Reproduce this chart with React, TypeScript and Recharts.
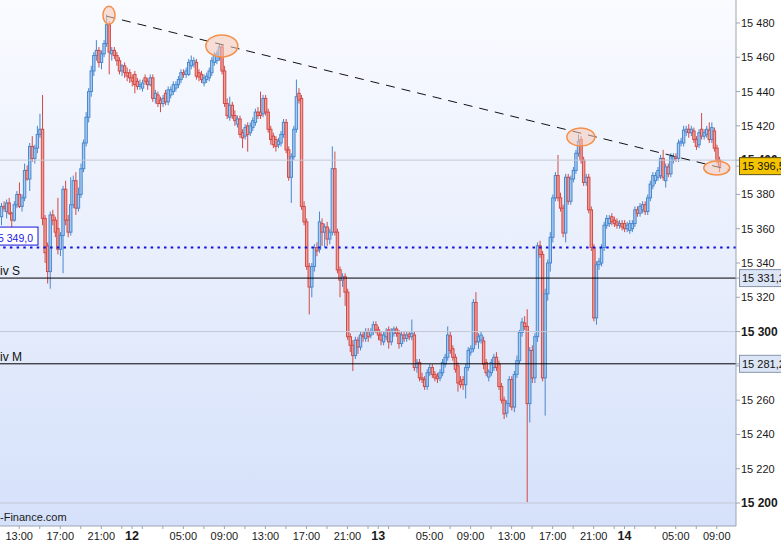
import {
  ComposedChart,
  Bar,
  XAxis,
  YAxis,
  ReferenceLine,
  ReferenceDot,
} from 'recharts';

// 15-minute candles, slot 0 = 11:15 on the 11th
const OPEN = [
  15367, 15373, 15370, 15375, 15369, 15365, 15374, 15380, 15373, 15378,
  15394, 15389, 15408, 15401, 15407, 15415, 15418, 15366, 15350, 15335,
  15368, 15365, 15360, 15348, 15356, 15383, 15365, 15358, 15374, 15388,
  15372, 15380, 15395, 15410, 15425, 15440, 15452, 15461, 15464, 15457,
  15462, 15468, 15479, 15462, 15464, 15461, 15458, 15452, 15455, 15451,
  15451, 15448, 15450, 15446, 15443, 15442, 15448, 15446, 15444, 15448,
  15436, 15438, 15435, 15433, 15439, 15434, 15438, 15440, 15442, 15444,
  15447, 15451, 15450, 15450, 15455, 15456, 15457, 15451, 15450, 15445,
  15447, 15448, 15451, 15457, 15458, 15460, 15466, 15452, 15433, 15425,
  15432, 15426, 15421, 15424, 15416, 15414, 15420, 15416, 15419, 15422,
  15428, 15428, 15427, 15436, 15428, 15418, 15414, 15412, 15409, 15410,
  15415, 15422, 15406, 15390, 15402, 15418, 15439, 15436, 15373, 15364,
  15338, 15326, 15338, 15349, 15348, 15363, 15358, 15361, 15354, 15358,
  15395, 15358, 15336, 15330, 15332, 15323, 15297, 15292, 15286, 15295,
  15291, 15298, 15296, 15300, 15298, 15300, 15304, 15301, 15298, 15294,
  15297, 15301, 15294, 15299, 15301.5, 15299, 15293, 15298, 15296, 15298.5,
  15297, 15298, 15279, 15282, 15273, 15272, 15268, 15276, 15279, 15275,
  15274, 15273, 15276, 15281, 15285, 15297.5, 15290, 15285, 15280, 15271,
  15272, 15269, 15279, 15288, 15290, 15317, 15294, 15295, 15294.5, 15282,
  15273.5, 15276, 15279, 15285, 15281, 15268, 15260, 15252.5, 15258, 15272,
  15256, 15275, 15283, 15299.5, 15305, 15303, 15258, 15289, 15273, 15297,
  15350, 15345, 15273, 15322, 15340, 15355, 15378, 15391, 15378, 15372,
  15357.5, 15390, 15376, 15389, 15394, 15404, 15412, 15400, 15387, 15390,
  15371, 15349, 15308, 15339, 15340, 15349, 15362, 15363, 15367, 15365,
  15364, 15362, 15363, 15363, 15360, 15359, 15360, 15363, 15371, 15369,
  15371, 15374, 15370, 15378, 15385, 15388, 15390, 15391, 15401, 15388,
  15396, 15392, 15400, 15402, 15401, 15410, 15410, 15416.5, 15418, 15416,
  15417, 15412, 15409, 15418, 15414, 15415, 15417.5, 15412, 15417, 15407,
  15400,
];

const HIGH = [
  15375, 15376, 15377, 15378, 15370, 15376, 15382, 15387, 15380, 15398,
  15397, 15410, 15414, 15409, 15420, 15427, 15438, 15368, 15352, 15370,
  15371, 15367, 15378, 15358, 15385, 15388, 15368, 15390, 15391, 15393,
  15384, 15398, 15412, 15428, 15442, 15455, 15463, 15470, 15466, 15464,
  15470, 15485, 15481, 15466, 15466, 15463, 15460, 15456, 15457, 15454,
  15453, 15450, 15452, 15448, 15447, 15447, 15450, 15448, 15450, 15450,
  15441, 15440, 15437, 15438, 15441, 15443, 15443, 15446, 15446, 15449,
  15453, 15453, 15454, 15459, 15461, 15460, 15459, 15453, 15452, 15450,
  15451, 15454, 15460, 15463, 15464, 15468, 15467, 15455, 15436, 15437,
  15434, 15429, 15426, 15426, 15418, 15421, 15422, 15422, 15425, 15430,
  15431, 15440, 15438, 15438, 15430, 15420, 15416, 15414, 15413, 15417,
  15424, 15424, 15408, 15404, 15420, 15447, 15442, 15438, 15376, 15366,
  15340, 15340, 15351, 15352, 15370, 15366, 15363, 15364, 15360, 15408,
  15405, 15360, 15338, 15334, 15334, 15325, 15299, 15295, 15297, 15297,
  15300, 15300, 15302, 15302, 15302, 15306, 15306, 15303, 15300, 15300,
  15302, 15303, 15302, 15303, 15303, 15301, 15300, 15300, 15300, 15300,
  15307, 15300, 15284, 15284, 15276, 15274, 15278, 15281, 15281, 15277,
  15276, 15278, 15284, 15287, 15303, 15300, 15292, 15287, 15282, 15274,
  15274, 15281, 15291, 15292, 15319, 15323, 15299, 15300, 15297, 15284,
  15278, 15284, 15287, 15288, 15283, 15270, 15262, 15260, 15274, 15274,
  15277, 15286, 15301, 15308, 15309, 15313, 15291, 15292, 15299, 15352,
  15353, 15347, 15325, 15342, 15358, 15380, 15393, 15403, 15381, 15374,
  15392, 15392, 15391, 15396, 15406, 15415, 15414, 15402, 15392, 15392,
  15373, 15351, 15341, 15343, 15351, 15364, 15368, 15368, 15369, 15367,
  15366, 15365, 15365, 15365, 15364, 15365, 15365, 15373, 15373, 15375,
  15376, 15376, 15380, 15388, 15393, 15393, 15396, 15403, 15406, 15398,
  15398, 15404, 15404, 15404, 15412, 15413, 15420, 15420, 15421, 15420,
  15419, 15414, 15418, 15427.5, 15418, 15420, 15422, 15422, 15419, 15409,
  15402,
];

const LOW = [
  15362, 15370, 15366, 15368, 15361, 15364, 15372, 15372, 15370, 15376,
  15388, 15382, 15399, 15398, 15404, 15413, 15362, 15340, 15328, 15325,
  15362, 15355, 15345, 15344, 15334, 15362, 15355, 15356, 15372, 15368,
  15370, 15378, 15393, 15408, 15422, 15437, 15449, 15458, 15454, 15453,
  15460, 15466, 15450, 15458, 15459, 15455, 15450, 15449, 15448, 15446,
  15445, 15443, 15439, 15441, 15441, 15440, 15444, 15441, 15443, 15434,
  15433, 15431, 15428, 15431, 15432, 15432, 15436, 15438, 15440, 15442,
  15445, 15448, 15448, 15449, 15453, 15454, 15447, 15446, 15445, 15443,
  15445, 15446, 15449, 15455, 15456, 15458, 15450, 15431, 15424, 15423,
  15424, 15420, 15419, 15413, 15407, 15412, 15405, 15414, 15417, 15420,
  15424, 15424, 15425, 15426, 15416, 15409, 15407, 15405, 15407, 15408,
  15413, 15404, 15388, 15375, 15400, 15416, 15433, 15371, 15362, 15336,
  15310, 15320, 15335, 15344, 15346, 15350, 15349, 15350, 15351, 15356,
  15356, 15334, 15320, 15326, 15315, 15295, 15288, 15277, 15284, 15287,
  15289, 15294, 15294, 15294, 15296, 15298, 15299, 15295, 15292, 15292,
  15295, 15290, 15292, 15297, 15297, 15290, 15291, 15294, 15294, 15295,
  15295, 15277, 15276, 15271, 15270, 15266, 15266, 15274, 15273, 15271,
  15270, 15271, 15274, 15279, 15283, 15287, 15283, 15276, 15265, 15267,
  15266, 15261, 15277, 15286, 15288, 15292, 15290, 15293, 15278, 15274,
  15271, 15274, 15277, 15277, 15266, 15258, 15249, 15250, 15256, 15254,
  15253, 15273, 15281, 15297, 15301, 15200.5, 15247, 15270, 15270, 15294,
  15343, 15271, 15251, 15318, 15335, 15352, 15376, 15376, 15370, 15355,
  15352, 15374, 15374, 15387, 15392, 15402, 15398, 15385, 15385, 15369,
  15347, 15306, 15304, 15336, 15338, 15347, 15360, 15361, 15362, 15361,
  15360, 15360, 15359, 15358, 15358, 15357, 15358, 15361, 15367, 15367,
  15369, 15368, 15368, 15376, 15383, 15386, 15388, 15389, 15388, 15384,
  15390, 15390, 15398, 15399, 15399, 15408, 15408, 15414, 15413, 15414,
  15410, 15406, 15407, 15412, 15412, 15413, 15410, 15410, 15405, 15398,
  15393,
];

const CLOSE = [
  15373, 15372, 15375, 15369, 15365, 15374, 15380, 15373, 15378, 15394,
  15389, 15408, 15401, 15407, 15415, 15418, 15366, 15346, 15335, 15368,
  15365, 15358, 15348, 15356, 15383, 15365, 15358, 15374, 15388, 15372,
  15380, 15395, 15410, 15425, 15440, 15452, 15461, 15464, 15457, 15462,
  15468, 15479, 15463, 15464, 15461, 15458, 15452, 15455, 15451, 15449,
  15448, 15446, 15444, 15443, 15444, 15445, 15446, 15444, 15448, 15436,
  15439, 15433, 15433, 15436, 15434, 15441, 15441, 15444, 15444, 15447,
  15451, 15450, 15452, 15457, 15458, 15458, 15449, 15448.5, 15447, 15448,
  15449, 15452, 15458, 15461, 15462, 15466, 15452, 15433, 15426, 15432,
  15426, 15423, 15424, 15415, 15413, 15419, 15415, 15420, 15423, 15428,
  15426, 15426, 15436, 15428, 15418, 15412, 15409, 15408, 15411, 15415,
  15422, 15406, 15390, 15402, 15418, 15437, 15435, 15373, 15364, 15338,
  15326, 15338, 15349, 15347, 15364, 15358, 15361, 15354, 15358, 15395,
  15358, 15336, 15330, 15332, 15323, 15297, 15292, 15286, 15295, 15291,
  15298, 15297, 15300, 15297, 15300, 15304, 15301, 15298, 15295, 15298,
  15300, 15294, 15300, 15301.5, 15299, 15293, 15298, 15296, 15298, 15297,
  15299, 15279, 15282, 15273, 15272, 15268, 15276, 15279, 15275, 15273,
  15272.5, 15276, 15282, 15285, 15298, 15289, 15285, 15278, 15270, 15269,
  15269, 15279, 15289, 15290, 15317, 15294, 15297, 15298, 15281, 15276,
  15276.5, 15282, 15285, 15279, 15268, 15260, 15252, 15258, 15272, 15256,
  15275, 15283, 15299.5, 15305.5, 15303, 15258, 15289, 15273, 15297, 15350,
  15345, 15273, 15322, 15340, 15355, 15378, 15391, 15378, 15372, 15357.5,
  15390, 15376, 15389, 15394, 15404, 15411, 15400, 15387, 15390, 15371,
  15349, 15308, 15339, 15341, 15349, 15362, 15366, 15366, 15364, 15363,
  15362, 15363, 15361, 15360, 15362, 15363, 15363, 15371, 15369, 15373,
  15374, 15370, 15378, 15386, 15391, 15391, 15394, 15401, 15390, 15396,
  15392, 15402, 15402, 15401, 15410, 15411, 15417.5, 15418, 15416, 15418,
  15412, 15408, 15416, 15414, 15416, 15418, 15412, 15419, 15407, 15400,
  15396.5,
];

// whole axis is 287 slots, the last ones are still empty
const SLOT_COUNT = 287;

const TIME_TICKS = [7, 23, 39, 51, 71, 87, 103, 119, 135, 147, 167, 183, 199, 215, 231, 243, 263, 279];
const TIME_LABELS = [
  '13:00', '17:00', '21:00', '12', '05:00', '09:00', '13:00', '17:00', '21:00',
  '13', '05:00', '09:00', '13:00', '17:00', '21:00', '14', '05:00', '09:00',
];
const DAY_LABELS = ['12', '13', '14'];
const MINOR_TICKS = [15, 31, 47, 55, 63, 79, 95, 111, 127, 143, 151, 159, 175, 191, 207, 223, 239, 247, 255, 271];

const PRICE_TICKS = [
  15200, 15220, 15240, 15260, 15280, 15300, 15320, 15340,
  15360, 15380, 15400, 15420, 15440, 15460, 15480,
];
const GRID_PRICES = [15200, 15300, 15400];

const LAST_PRICE = 15396.5;
const PIVOT_LEVELS = [15331.2, 15281.2];
const PIVOT_NAMES = ['Piv S', 'Piv M'];
const ALERT_LEVEL = 15349.0;

const TREND_SLOTS = [41, 284];
const TREND_PRICES = [15484, 15394.3];

const MARK_SLOTS = [42, 86, 226, 279];
const MARK_PRICES = [15484.5, 15466.6, 15413.5, 15395.4];
const MARK_SIZES = [[6, 9], [16, 11], [14, 9], [13, 7]];

const AXIS_GREY = '#9ba4b6';
const TAG_LEVELS = [...PIVOT_LEVELS, LAST_PRICE];

const fmt = (v: number, digits = 0) => {
  const [int, dec] = v.toFixed(digits).split('.');
  return int.replace(/\B(?=(\d{3})+(?!\d))/g, ' ') + (dec ? ',' + dec : '');
};

const rows = Array.from({ length: SLOT_COUNT }, (_, i) => ({
  slot: i,
  o: OPEN[i] ?? null,
  h: HIGH[i] ?? null,
  l: LOW[i] ?? null,
  c: CLOSE[i] ?? null,
}));

function Candle(props: any) {
  const { x, y, width, height, payload } = props;
  if (payload == null || payload.o == null) return null;
  const top = Math.min(y, y + height);
  const bottom = Math.max(y, y + height);
  const span = payload.h - payload.l;
  const toY = (p: number) => (span > 0 ? top + ((payload.h - p) / span) * (bottom - top) : top);
  const up = payload.c >= payload.o;
  const line = up ? '#4888cf' : '#d24a46';
  const fill = up ? '#a9cbf0' : '#f19f99';
  const cx = x + width / 2;
  const y1 = toY(Math.max(payload.o, payload.c));
  const y2 = toY(Math.min(payload.o, payload.c));
  return (
    <g>
      <line x1={cx} x2={cx} y1={top} y2={bottom} stroke={line} strokeWidth={1} />
      <rect
        x={cx - 1.2}
        y={y1}
        width={2.4}
        height={Math.max(1, y2 - y1)}
        fill={fill}
        stroke={line}
        strokeWidth={1}
      />
    </g>
  );
}

function TimeTick({ x, y, payload }: any) {
  const idx = TIME_TICKS.indexOf(payload.value);
  if (idx < 0) return null;
  const label = TIME_LABELS[idx];
  const isDay = DAY_LABELS.includes(label);
  return (
    <text
      x={x}
      y={y + 9}
      textAnchor="middle"
      fontSize={isDay ? 12.5 : 11}
      fontWeight={isDay ? 'bold' : 'normal'}
      fill="#1a1a1a"
    >
      {label}
    </text>
  );
}

// price ticks; the tag levels come last so their boxes sit over the plain labels
function PriceTick({ x, y, payload }: any) {
  const v = payload.value;
  if (TAG_LEVELS.includes(v)) {
    const yellow = v === LAST_PRICE;
    return (
      <g>
        <rect
          x={x - 1.5}
          y={y - 8.5}
          width={50}
          height={17}
          fill={yellow ? '#f5c400' : '#dce5f5'}
          stroke={yellow ? '#5f5218' : '#8494ac'}
          strokeWidth={1}
        />
        <text x={x + 1} y={y + 4} fontSize={11} fill="#111">
          {fmt(v, 1)}
        </text>
      </g>
    );
  }
  // a label sitting right under a tag is fully hidden in the original
  if (TAG_LEVELS.some((t) => Math.abs(t - v) < 3)) return null;
  const bold = v % 100 === 0;
  return (
    <text
      x={x}
      y={y + 4}
      textAnchor="start"
      fontSize={bold ? 12 : 11}
      fontWeight={bold ? 'bold' : 'normal'}
      fill="#1a1a1a"
    >
      {fmt(v)}
    </text>
  );
}

function PivotName({ viewBox, name }: any) {
  return (
    <text x={viewBox.x - 8} y={viewBox.y - 3} fontSize={12} fill="#111">
      {name}
    </text>
  );
}

function AlertTag({ viewBox, value }: any) {
  const { x, y } = viewBox;
  return (
    <g>
      <rect x={x - 6} y={y - 20.5} width={44} height={18} fill="#ffffff" stroke="#1414d8" strokeWidth={1} />
      <text x={x + 33} y={y - 6} textAnchor="end" fontSize={10.5} fill="#1a1ae6">
        {fmt(value, 1)}
      </text>
    </g>
  );
}

const Ellipse = (rx: number, ry: number) => (props: any) => (
  <ellipse
    cx={props.cx}
    cy={props.cy}
    rx={rx}
    ry={ry}
    fill="#f6c9b6"
    fillOpacity={0.55}
    stroke="#f5904a"
    strokeWidth={1.5}
  />
);

export default function App() {
  return (
    <div
      style={{
        position: 'absolute',
        left: 0,
        top: 0,
        width: 781,
        height: 544,
        background: '#ffffff',
        fontFamily: '"Liberation Sans", Arial, sans-serif',
        overflow: 'hidden',
      }}
    >
      <div
        style={{
          position: 'absolute',
          left: 0,
          top: 0,
          width: 736,
          height: 526,
          background: 'linear-gradient(to bottom, #f9fbff 0%, #e8eefc 50%, #d5e1fa 100%)',
        }}
      />
      <div style={{ position: 'absolute', left: 0, top: 0 }}>
        <ComposedChart
          width={781}
          height={544}
          data={rows}
          margin={{ top: 0, right: 0, bottom: 0, left: 0 }}
          barCategoryGap={0}
          barGap={0}
        >
          <XAxis
            dataKey="slot"
            type="category"
            height={18}
            ticks={[...TIME_TICKS, ...MINOR_TICKS].sort((a, b) => a - b)}
            interval={0}
            tick={<TimeTick />}
            tickSize={3}
            tickMargin={2}
            axisLine={{ stroke: AXIS_GREY }}
            tickLine={{ stroke: AXIS_GREY }}
          />
          <YAxis
            orientation="right"
            width={45}
            type="number"
            domain={[15186.6, 15493.4]}
            allowDataOverflow
            ticks={[...PRICE_TICKS, ...TAG_LEVELS]}
            interval={0}
            tick={<PriceTick />}
            tickSize={4}
            tickMargin={1}
            axisLine={{ stroke: AXIS_GREY }}
            tickLine={{ stroke: AXIS_GREY }}
          />
          {GRID_PRICES.map((p) => (
            <ReferenceLine key={p} y={p} stroke="#c3c8d4" strokeWidth={1} />
          ))}
          <Bar
            dataKey={(d: any) => (d.o == null ? null : [d.l, d.h])}
            shape={<Candle />}
            isAnimationActive={false}
          />
          <ReferenceLine
            y={ALERT_LEVEL}
            stroke="#1212e0"
            strokeWidth={2}
            strokeDasharray="2.5 4.2"
            label={<AlertTag value={ALERT_LEVEL} />}
          />
          {PIVOT_LEVELS.map((p, k) => (
            <ReferenceLine
              key={p}
              y={p}
              stroke="#000000"
              strokeWidth={1}
              label={<PivotName name={PIVOT_NAMES[k]} />}
            />
          ))}
          <ReferenceLine
            segment={[
              { x: TREND_SLOTS[0], y: TREND_PRICES[0] },
              { x: TREND_SLOTS[1], y: TREND_PRICES[1] },
            ]}
            stroke="#111111"
            strokeWidth={1}
            strokeDasharray="9 7"
          />
          {MARK_SLOTS.map((s, k) => (
            <ReferenceDot
              key={s}
              x={s}
              y={MARK_PRICES[k]}
              r={MARK_SIZES[k][0]}
              shape={Ellipse(MARK_SIZES[k][0], MARK_SIZES[k][1])}
            />
          ))}
        </ComposedChart>
      </div>
      <div
        style={{
          position: 'absolute',
          left: 0,
          top: 511,
          fontSize: 11,
          color: '#1a1a1a',
          whiteSpace: 'nowrap',
        }}
      >
        -Finance.com
      </div>
    </div>
  );
}
